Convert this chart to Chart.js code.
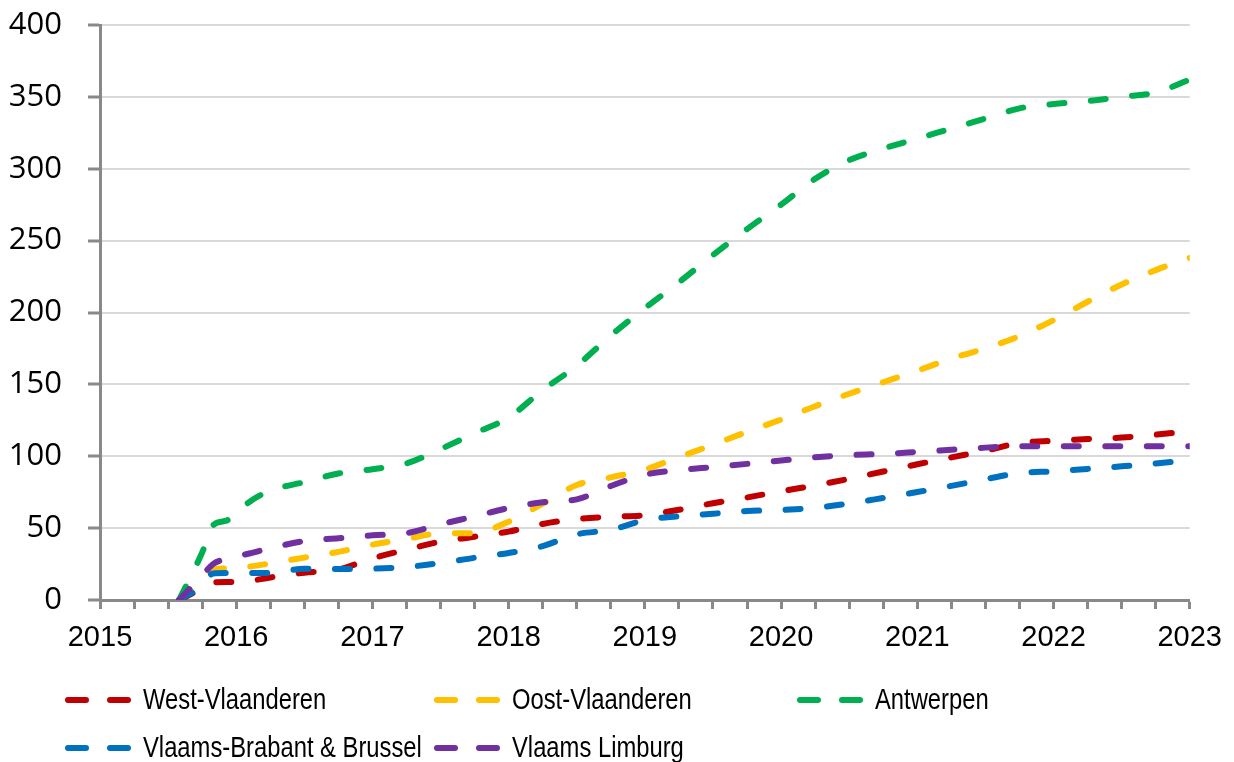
<!DOCTYPE html>
<html>
<head>
<meta charset="utf-8">
<script src="https://cdn.jsdelivr.net/npm/chart.js@4.4.1/dist/chart.umd.min.js"></script>
<style>
  html, body { margin: 0; padding: 0; background: #fff; }
  #wrap { width: 1234px; height: 762px; position: relative; }
</style>
</head>
<body>
<div id="wrap"><canvas id="regionChart"></canvas></div>
<script>
// decimal years of the data points
const years = [2015.58, 2015.75, 2015.83, 2015.92, 2016.0, 2016.08, 2016.25, 2016.5, 2016.75, 2017.0,
  2017.25, 2017.5, 2017.75, 2018.0, 2018.25, 2018.5, 2018.75, 2019.0, 2019.25, 2019.5,
  2019.75, 2020.0, 2020.25, 2020.5, 2020.75, 2021.0, 2021.25, 2021.5, 2021.75, 2022.0,
  2022.25, 2022.5, 2022.75, 2023.0];

const westVlaanderen = [0, 8, 12, 12.5, 12.5, 13, 15.7, 19, 21.2, 29,
  35, 40.6, 44, 47.6, 52.9, 56.3, 57.9, 59, 62.8, 67.3,
  71.3, 75.7, 79.7, 84.3, 89.4, 94.4, 99.2, 103.8, 109.2, 110.8,
  112, 113, 115, 117.5];
const oostVlaanderen = [0, 14, 21, 22, 22.5, 23, 25.5, 29.5, 33.5, 38.5,
  42.5, 46.3, 46.6, 54.5, 67, 80, 85.3, 90.7, 99.4, 108,
  117, 125.5, 134.8, 143.5, 151.5, 159.5, 168, 175, 183.6, 194.7,
  207.5, 219.5, 229.5, 238];
const antwerpen = [0, 33, 52, 55, 59, 67, 76, 82, 88, 91,
  95, 105, 116, 127, 146, 163, 184, 203, 221, 240,
  258, 275, 293, 306, 314, 321, 328, 335, 342, 345,
  347, 350, 353, 362];
const vlaamsBrabant = [0, 10, 18.5, 18.8, 18.8, 18.8, 18.8, 21.7, 21.6, 21.8,
  23, 25.7, 29.4, 32.7, 37.5, 45.7, 48.8, 55.6, 58.2, 60,
  61.9, 62.6, 64.2, 67.1, 71, 75.1, 79.4, 84, 88.3, 89.5,
  91.2, 93, 95, 97.5];
const vlaamsLimburg = [0, 17, 25, 28.5, 30.4, 32, 36, 41, 43, 45,
  46.5, 52.6, 58.2, 64, 68, 70, 79.3, 87.2, 90.3, 92.5,
  94.7, 97.1, 99.3, 100.8, 101.6, 103, 104.5, 106, 107, 107,
  107, 107, 107, 107];

const seriesNames = ['West-Vlaanderen', 'Oost-Vlaanderen', 'Antwerpen', 'Vlaams-Brabant & Brussel', 'Vlaams Limburg'];
const seriesValues = [westVlaanderen, oostVlaanderen, antwerpen, vlaamsBrabant, vlaamsLimburg];
const seriesColors = ['#C00000', '#FFC000', '#00B050', '#0070C0', '#7030A0'];

const axisColor = '#898989';
const labelFont = '"Liberation Sans", Arial, sans-serif';

let datasets = [];
for (let i = 0; i < seriesNames.length; i++) {
    datasets.push({
        label: seriesNames[i],
        data: years.map((x, j) => ({x: x, y: seriesValues[i][j]})),
        borderColor: seriesColors[i],
        backgroundColor: seriesColors[i],
        borderWidth: 6,
        borderDash: [15, 26.5],
        borderCapStyle: 'round',
        borderJoinStyle: 'round',
        cubicInterpolationMode: 'monotone',
        pointRadius: 0,
        fill: false,
        order: seriesNames.length - i   // later series drawn on top, like the original
    });
}

// legend drawn by hand: two rows, fixed columns, condensed text
const legendPlugin = {
    id: 'dashLegend',
    afterDraw(chart) {
        const c = chart.ctx;
        const slots = [[65, 700], [434, 700], [797, 700], [65, 748], [434, 748]];
        c.save();
        c.font = '29px ' + labelFont;
        c.textBaseline = 'middle';
        c.fillStyle = '#000';
        for (let i = 0; i < seriesNames.length; i++) {
            const [x, y] = slots[i];
            c.strokeStyle = seriesColors[i];
            c.lineWidth = 6;
            c.lineCap = 'round';
            c.beginPath();
            c.moveTo(x + 3, y); c.lineTo(x + 21, y);
            c.moveTo(x + 45, y); c.lineTo(x + 63, y);
            c.stroke();
            const w = c.measureText(seriesNames[i]).width;
            c.fillText(seriesNames[i], x + 78, y + 1, w * 0.82);
        }
        c.restore();
    }
};

let ctx = document.getElementById('regionChart');
let myChart = new Chart(ctx, {
    type: 'line',
    data: {datasets: datasets},
    options: {
        responsive: true,
        maintainAspectRatio: false,
        animation: false,
        layout: {padding: {top: 25, right: 39, bottom: 102, left: 0}},
        plugins: {
            legend: {display: false},
            tooltip: {enabled: false}
        },
        scales: {
            x: {
                type: 'linear',
                min: 2015,
                max: 2023,
                afterFit: function (scale) { scale.height = 60; },
                border: {color: axisColor, width: 3},
                grid: {
                    drawOnChartArea: false,
                    drawTicks: true,
                    tickLength: 9,
                    tickColor: axisColor,
                    tickWidth: 3
                },
                ticks: {
                    stepSize: 0.25,
                    autoSkip: false,
                    maxRotation: 0,
                    padding: 12,
                    color: '#000',
                    font: {family: labelFont, size: 29},
                    callback: function (value) {
                        return Number.isInteger(value) ? String(value) : '';
                    }
                }
            },
            y: {
                min: 0,
                max: 400,
                afterFit: function (scale) {
                    scale.width = 100;
                    scale.paddingTop = 0;
                    scale.paddingBottom = 0;
                },
                border: {color: axisColor, width: 3},
                grid: {
                    color: '#d9d9d9',
                    lineWidth: 2,
                    tickLength: 12,
                    tickColor: axisColor,
                    tickWidth: 3
                },
                ticks: {
                    stepSize: 50,
                    padding: 26,
                    color: '#000',
                    font: {family: '"Open Sans", sans-serif', size: 31}
                }
            }
        }
    },
    plugins: [legendPlugin]
});
</script>
</body>
</html>
